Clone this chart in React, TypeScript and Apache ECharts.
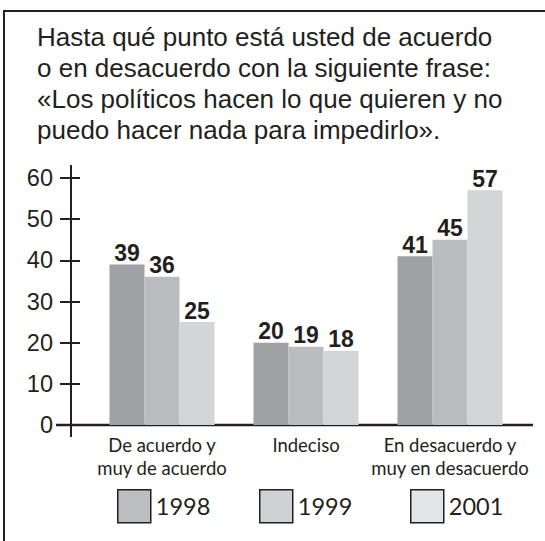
import React, { useEffect, useRef } from "react";
import * as echarts from "echarts";

const titleLines = [
  "Hasta qué punto está usted de acuerdo",
  "o en desacuerdo con la siguiente frase:",
  "«Los políticos hacen lo que quieren y no",
  "puedo hacer nada para impedirlo».",
];
const categories = [
  "De acuerdo y\nmuy de acuerdo",
  "Indeciso",
  "En desacuerdo y\nmuy en desacuerdo",
];
const years = ["1998", "1999", "2001"];
const values1998 = [39, 20, 41];
const values1999 = [36, 19, 45];
const values2001 = [25, 18, 57];
const yMin = 0;
const yMax = 60;
const yInterval = 10;

const barColors = ["#a0a1a4", "#bbbcbf", "#d3d4d6"];
const legendColors = ["#bcbdc0", "#d0d1d3", "#e4e5e6"];
const legendLefts = [117, 259, 410];

const INK = "#231f20";
const ARIAL = "'Liberation Sans', Arial, Helvetica, sans-serif";
const HUMANIST = "Lato, 'Open Sans', sans-serif";

export default function App() {
  const ref = useRef<HTMLDivElement>(null);
  useEffect(() => {
    if (!ref.current) return;
    const chart = echarts.init(ref.current, undefined, { renderer: "svg" });
    const seriesValues = [values1998, values1999, values2001];
    const yAxisBase = {
      type: "value" as const,
      min: yMin,
      max: yMax,
      interval: yInterval,
      position: "left" as const,
      offset: 19,
      axisLine: { show: false },
      splitLine: { show: false },
    };
    chart.setOption({
      animation: false,
      backgroundColor: "#ffffff",
      title: {
        text: titleLines.join("\n"),
        left: 37,
        top: 21.3,
        padding: 0,
        textStyle: {
          fontFamily: ARIAL,
          fontSize: 26,
          fontWeight: "normal",
          lineHeight: 31,
          color: INK,
        },
      },
      legend: years.map((y, i) => ({
        data: [
          {
            name: y,
            icon: "rect",
            itemStyle: { color: legendColors[i], borderColor: INK, borderWidth: 1.5 },
          },
        ],
        left: legendLefts[i],
        top: 489,
        padding: 0,
        itemWidth: 33,
        itemHeight: 33,
        selectedMode: false,
        textStyle: { fontFamily: HUMANIST, fontSize: 23.5, color: INK },
      })),
      grid: { left: 90, right: 23, top: 178, bottom: 116, containLabel: false },
      xAxis: {
        type: "category",
        data: categories,
        axisLine: { show: false },
        axisTick: { show: false },
        axisLabel: {
          fontFamily: HUMANIST,
          fontSize: 18.5,
          lineHeight: 22.5,
          color: INK,
          margin: 9,
          interval: 0,
        },
      },
      yAxis: [
        {
          ...yAxisBase,
          axisTick: { show: true, inside: false, length: 11, lineStyle: { color: INK, width: 2 } },
          axisLabel: { fontFamily: ARIAL, fontSize: 23.5, color: INK, margin: 18 },
        },
        {
          ...yAxisBase,
          axisTick: { show: true, inside: true, length: 9, lineStyle: { color: INK, width: 2 } },
          axisLabel: { show: false },
        },
      ],
      series: years.map((y, i) => ({
        name: y,
        type: "bar",
        data: seriesValues[i],
        barWidth: 35,
        barGap: "0%",
        itemStyle: { color: barColors[i] },
        label: {
          show: true,
          position: "top",
          distance: 0,
          fontFamily: ARIAL,
          fontSize: 23,
          fontWeight: "bold",
          color: INK,
        },
      })),
      graphic: [
        { type: "line", shape: { x1: 3, y1: 11, x2: 545, y2: 11 }, style: { stroke: INK, lineWidth: 2 } },
        { type: "line", shape: { x1: 4, y1: 10, x2: 4, y2: 541 }, style: { stroke: INK, lineWidth: 2 } },
        { type: "line", shape: { x1: 71, y1: 165, x2: 71, y2: 437 }, style: { stroke: INK, lineWidth: 2 } },
        { type: "line", shape: { x1: 56, y1: 425, x2: 533, y2: 425 }, style: { stroke: INK, lineWidth: 2.5 } },
      ],
    });
    return () => chart.dispose();
  }, []);
  return (
    <div
      ref={ref}
      style={{ position: "fixed", left: 0, top: 0, width: 545, height: 541, background: "#fff" }}
    />
  );
}
